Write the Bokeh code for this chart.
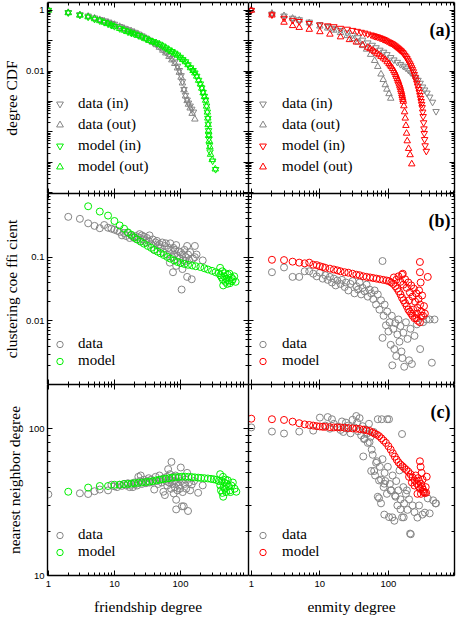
from bokeh.plotting import figure
from bokeh.layouts import gridplot
from bokeh.models import (LogAxis, FixedTicker, CustomJSTickFormatter, Range1d,
                          Legend, LegendItem, Label)
from bokeh.embed import file_html
from bokeh.resources import INLINE

# ---------------- data: panel (a) degree CDF ----------------
fr_model_in_deg = [1, 2, 3, 4, 5, 6, 7, 8, 9, 10, 12, 14, 16, 18, 20, 23, 26, 30, 34, 38, 43, 48, 54, 60, 67,
                   74, 82, 90, 99, 108, 119, 130, 142, 155, 165, 176, 188, 200, 210, 220, 230, 240, 248, 255,
                   260, 263, 266, 268, 270, 275, 280, 307, 340]
fr_model_in_cdf = [1.0, 0.83, 0.69, 0.60, 0.51, 0.45, 0.40, 0.355, 0.32, 0.295, 0.25, 0.22, 0.195, 0.178, 0.166,
                   0.148, 0.132, 0.115, 0.102, 0.093, 0.085, 0.077, 0.067, 0.058, 0.050, 0.044, 0.039, 0.034,
                   0.0285, 0.0240, 0.0204, 0.0162, 0.0129, 0.0105, 0.0087, 0.0068, 0.0050, 0.0038, 0.0028,
                   0.0020, 0.00148, 0.00112, 7.1e-4, 4.5e-4, 2.8e-4, 1.8e-4, 1.1e-4, 7.9e-5, 5.9e-5, 3.6e-5,
                   2.2e-5, 1.1e-5, 5.8e-6]
fr_model_out_deg = [1, 2, 3, 4, 5, 6, 7, 8, 9, 10, 12, 14, 16, 18, 20, 23, 26, 30, 34, 38, 43, 48, 54, 60, 67,
                    74, 82, 90, 99, 108, 119, 130, 142, 155, 165, 176, 188, 200, 210, 220, 230, 240, 248, 255,
                    259, 262, 265, 267, 272, 278, 285, 302, 336]
fr_model_out_cdf = [1.0, 0.82, 0.68, 0.60, 0.52, 0.45, 0.40, 0.36, 0.325, 0.295, 0.25, 0.22, 0.196, 0.178, 0.165,
                    0.147, 0.131, 0.114, 0.101, 0.092, 0.084, 0.076, 0.066, 0.057, 0.049, 0.043, 0.038, 0.033,
                    0.0280, 0.0236, 0.0200, 0.0160, 0.0127, 0.0103, 0.0086, 0.0067, 0.0049, 0.0037, 0.0027,
                    0.0019, 0.00142, 0.00108, 6.9e-4, 4.4e-4, 2.8e-4, 1.7e-4, 1.05e-4, 7.5e-5, 5.0e-5, 3.2e-5,
                    1.8e-5, 1.2e-5, 5.9e-6]
fr_data_in_deg = [1, 2, 3, 4, 5, 6, 7, 8, 9, 10, 12, 14, 16, 18, 20, 23, 26, 30, 34, 38, 43, 48, 54, 60, 67,
                  74, 82, 90, 96, 102, 107, 113, 119, 126, 132, 140, 148, 157]
fr_data_in_cdf = [1.0, 0.85, 0.72, 0.65, 0.56, 0.50, 0.45, 0.41, 0.37, 0.35, 0.295, 0.257, 0.229, 0.209, 0.19,
                  0.166, 0.145, 0.123, 0.105, 0.091, 0.076, 0.063, 0.051, 0.042, 0.033, 0.026, 0.020, 0.0145,
                  0.0105, 0.0071, 0.0045, 0.0025, 0.0016, 0.00112, 8.9e-4, 7.1e-4, 5.6e-4, 4.5e-4]
fr_data_out_deg = [1, 2, 3, 4, 5, 6, 7, 8, 9, 10, 12, 14, 16, 18, 20, 23, 26, 30, 34, 38, 43, 48, 54, 60, 67,
                   74, 82, 90, 96, 102, 107, 113, 119, 126, 132, 140, 150, 165]
fr_data_out_cdf = [1.0, 0.84, 0.71, 0.63, 0.55, 0.49, 0.44, 0.40, 0.365, 0.34, 0.29, 0.252, 0.225, 0.205, 0.186,
                   0.162, 0.141, 0.12, 0.102, 0.088, 0.073, 0.060, 0.048, 0.039, 0.030, 0.023, 0.0175, 0.0125,
                   0.009, 0.0062, 0.0040, 0.0024, 0.0015, 0.00105, 8.0e-4, 6.0e-4, 4.0e-4, 2.6e-4]

en_model_in_deg = [1, 2, 3, 4, 5, 7, 10, 13, 16, 20, 25, 30, 35, 40, 45, 50, 56, 60, 63, 66, 70, 74, 78, 82, 86,
                   90, 95, 100, 105, 110, 115, 120, 125, 130, 135, 140, 145, 150, 155, 161, 167, 173, 180, 186,
                   192, 198, 205, 211, 218, 224, 231, 238, 245, 252, 260, 267, 275, 282, 288, 294, 300, 305,
                   310, 316, 321, 326, 330, 333, 337, 343, 357]
en_model_in_cdf = [1.0, 0.71, 0.55, 0.47, 0.43, 0.37, 0.33, 0.31, 0.29, 0.257, 0.24, 0.219, 0.204, 0.19, 0.178,
                   0.166, 0.155, 0.147, 0.141, 0.137, 0.132, 0.126, 0.12, 0.115, 0.11, 0.104, 0.098, 0.092,
                   0.087, 0.082, 0.078, 0.073, 0.068, 0.063, 0.059, 0.055, 0.051, 0.048, 0.045, 0.041, 0.037,
                   0.033, 0.0295, 0.026, 0.0229, 0.020, 0.0174, 0.0151, 0.0129, 0.0112, 0.0095, 0.0078, 0.0063,
                   0.0051, 0.0040, 0.0032, 0.0025, 0.0020, 0.00158, 0.00126, 0.0010, 8.0e-4, 6.3e-4, 4.5e-4,
                   3.2e-4, 2.0e-4, 1.26e-4, 8.9e-5, 5.6e-5, 3.5e-5, 2.3e-5]
en_model_out_deg = [1, 2, 3, 4, 5, 7, 10, 14, 20, 27, 34, 42, 50, 54, 59, 63, 68, 73, 78, 84, 90, 96, 102, 106,
                    110, 115, 120, 124, 128, 131, 135, 138, 141, 144, 147, 150, 152, 155, 157, 159, 161, 163,
                    165, 168, 172, 176, 180, 184, 188, 197, 207, 219]
en_model_out_cdf = [1.0, 0.69, 0.40, 0.31, 0.27, 0.234, 0.195, 0.162, 0.132, 0.107, 0.089, 0.072, 0.060, 0.054,
                    0.048, 0.043, 0.038, 0.034, 0.030, 0.0265, 0.0234, 0.020, 0.0174, 0.0155, 0.0138, 0.012,
                    0.0102, 0.0089, 0.0076, 0.0066, 0.0056, 0.0049, 0.0043, 0.0037, 0.0032, 0.0028, 0.0024,
                    0.0021, 0.00178, 0.00155, 0.00132, 0.00115, 0.0010, 7.1e-4, 4.5e-4, 2.8e-4, 1.6e-4,
                    8.9e-5, 5.0e-5, 2.8e-5, 1.74e-5, 8.7e-6]
en_data_in_deg = [1, 2, 3, 4, 5, 7, 10, 13, 16, 20, 25, 30, 36, 42, 50, 58, 66, 75, 85, 95, 108, 120, 135, 150,
                  165, 180, 196, 212, 230, 250, 270, 290, 315, 337, 365, 400, 440, 495]
en_data_in_cdf = [1.0, 0.76, 0.65, 0.55, 0.49, 0.41, 0.34, 0.295, 0.257, 0.219, 0.182, 0.151, 0.126, 0.105,
                  0.085, 0.071, 0.059, 0.049, 0.042, 0.035, 0.028, 0.0234, 0.0195, 0.0166, 0.0145, 0.0126,
                  0.0107, 0.0089, 0.0074, 0.0060, 0.0050, 0.0040, 0.0030, 0.0024, 0.0019, 0.0014, 9.5e-4, 4.7e-4]
en_data_out_deg = [1, 2, 3, 4, 5, 7, 10, 13, 16, 20, 25, 30, 36, 42, 48, 55, 63, 70, 78, 84, 90, 95, 102, 108]
en_data_out_cdf = [1.0, 0.79, 0.66, 0.54, 0.47, 0.38, 0.30, 0.257, 0.219, 0.182, 0.145, 0.115, 0.089, 0.068,
                   0.052, 0.035, 0.022, 0.014, 0.0079, 0.0052, 0.0035, 0.0025, 0.00178, 0.00126]

# ---------------- data: panel (b) clustering coefficient ----------------
fr_cc_model_deg = [4, 6, 8, 10, 12, 14, 16, 18, 20, 22, 25, 28, 32, 36, 40, 45, 50, 56, 63, 70, 80, 90, 100, 115,
                   130, 150, 170, 200, 230, 260, 300, 340, 380, 400, 420, 440, 460, 480, 500, 520, 540, 560,
                   590, 620, 650, 684, 443, 398, 430, 470, 510, 550, 600]
fr_cc_model_val = [0.63, 0.52, 0.45, 0.37, 0.315, 0.28, 0.245, 0.225, 0.205, 0.19, 0.175, 0.163, 0.150, 0.140,
                   0.130, 0.122, 0.115, 0.108, 0.101, 0.095, 0.089, 0.084, 0.081, 0.078, 0.076, 0.074, 0.072,
                   0.070, 0.067, 0.064, 0.061, 0.058, 0.056, 0.052, 0.048, 0.044, 0.050, 0.041, 0.046, 0.053,
                   0.043, 0.039, 0.048, 0.045, 0.050, 0.041, 0.036, 0.068, 0.060, 0.056, 0.038, 0.055, 0.042]
fr_cc_data_deg = [2, 3, 4, 5, 6, 7, 8, 9, 10, 11, 12, 13, 14, 15, 16, 17, 18, 19, 20, 21, 22, 23, 24, 25, 26, 27,
                  28, 30, 31, 33, 34, 36, 38, 40, 42, 44, 46, 48, 50, 53, 55, 58, 60, 63, 66, 69, 70, 72, 75,
                  77, 78, 80, 83, 86, 86, 90, 95, 98, 101, 104, 107, 107, 110, 115, 118, 120, 126, 126, 130,
                  135, 140, 148, 155, 165, 165, 175, 217]
fr_cc_data_val = [0.43, 0.40, 0.34, 0.31, 0.285, 0.32, 0.29, 0.28, 0.27, 0.26, 0.25, 0.22, 0.24, 0.215, 0.24,
                  0.20, 0.22, 0.21, 0.20, 0.215, 0.19, 0.205, 0.23, 0.18, 0.22, 0.19, 0.21, 0.17, 0.20, 0.18,
                  0.22, 0.16, 0.19, 0.13, 0.17, 0.18, 0.15, 0.16, 0.138, 0.17, 0.12, 0.15, 0.165, 0.11, 0.14,
                  0.082, 0.165, 0.125, 0.10, 0.058, 0.14, 0.11, 0.13, 0.155, 0.073, 0.105, 0.123, 0.095, 0.12,
                  0.031, 0.11, 0.065, 0.09, 0.13, 0.087, 0.10, 0.15, 0.049, 0.11, 0.09, 0.12, 0.045, 0.095,
                  0.10, 0.15, 0.11, 0.089]

en_cc_model_deg = [2, 3, 4, 5, 6, 7, 8, 9, 10, 11, 12, 14, 16, 18, 20, 23, 26, 30, 34, 38, 43, 48, 54, 60, 67,
                   75, 84, 94, 102, 110, 118, 126, 134, 142, 150, 158, 166, 175, 185, 195, 205, 215, 225, 240,
                   255, 270, 288, 300, 120, 130, 140, 150, 158, 165, 175, 185, 195, 205, 215, 225, 235, 245,
                   255, 265, 275, 288, 288, 290, 300, 310, 320, 330, 340, 375, 162, 200, 230, 260, 280, 295]
en_cc_model_val = [0.091, 0.09, 0.085, 0.082, 0.080, 0.082, 0.076, 0.075, 0.072, 0.070, 0.068, 0.066, 0.064,
                   0.062, 0.060, 0.058, 0.057, 0.055, 0.053, 0.052, 0.050, 0.049, 0.048, 0.047, 0.046, 0.045,
                   0.044, 0.043, 0.042, 0.040, 0.038, 0.035, 0.032, 0.029, 0.026, 0.023, 0.021, 0.019, 0.017,
                   0.015, 0.014, 0.013, 0.012, 0.011, 0.011, 0.010, 0.0095, 0.012, 0.048, 0.044, 0.050, 0.041,
                   0.053, 0.037, 0.045, 0.033, 0.040, 0.028, 0.036, 0.024, 0.032, 0.020, 0.027, 0.016, 0.022,
                   0.084, 0.058, 0.018, 0.014, 0.025, 0.012, 0.017, 0.013, 0.049, 0.055, 0.021, 0.015, 0.013,
                   0.030, 0.040]
en_cc_data_deg = [2, 3, 4, 5, 6, 7, 8, 9, 10, 11, 12, 13, 14, 15, 16, 17, 18, 20, 21, 23, 24, 26, 28, 30, 32, 34,
                  36, 38, 40, 42, 45, 48, 50, 53, 56, 60, 63, 66, 70, 74, 78, 82, 82, 85, 88, 92, 96, 100, 104,
                  108, 112, 114, 118, 122, 126, 130, 135, 140, 145, 150, 155, 160, 165, 170, 180, 190, 200, 210,
                  220, 240, 260, 290, 320, 360, 400, 430, 470]
en_cc_data_val = [0.058, 0.069, 0.049, 0.049, 0.060, 0.060, 0.055, 0.050, 0.057, 0.046, 0.052, 0.044, 0.049,
                  0.040, 0.046, 0.036, 0.043, 0.038, 0.044, 0.034, 0.040, 0.030, 0.038, 0.042, 0.027, 0.035,
                  0.031, 0.040, 0.026, 0.033, 0.029, 0.037, 0.024, 0.031, 0.027, 0.022, 0.030, 0.018, 0.026,
                  0.015, 0.021, 0.0054, 0.087, 0.012, 0.018, 0.0085, 0.014, 0.0068, 0.0095, 0.0042, 0.012,
                  0.002, 0.0075, 0.0036, 0.0092, 0.0028, 0.0061, 0.0105, 0.0047, 0.0083, 0.0033, 0.0026,
                  0.0065, 0.0019, 0.0095, 0.0052, 0.0024, 0.0075, 0.0021, 0.0058, 0.0088, 0.0036, 0.0095,
                  0.0105, 0.0105, 0.0022, 0.0105]

# ---------------- data: panel (c) nearest neighbor degree ----------------
fr_knn_model_deg = [2, 4, 6, 8, 10, 12, 14, 16, 18, 20, 23, 26, 30, 34, 38, 43, 48, 54, 60, 67, 75, 84, 94, 105,
                    118, 132, 148, 165, 185, 205, 230, 260, 290, 320, 350, 380, 400, 410, 420, 430, 440, 450,
                    460, 470, 480, 490, 500, 520, 540, 560, 590, 620, 660, 700, 398, 443, 570]
fr_knn_model_val = [37.2, 39.7, 40.7, 40.7, 41.5, 41.5, 42.0, 42.0, 42.3, 42.5, 42.8, 43.0, 43.3, 43.6, 44.0,
                    44.5, 44.9, 45.3, 45.7, 46.0, 46.4, 46.7, 46.9, 47.1, 47.1, 47.0, 46.8, 46.6, 46.4, 46.2,
                    46.0, 45.8, 45.5, 45.2, 44.8, 44.0, 41.0, 38.0, 44.0, 36.5, 47.0, 40.0, 43.0, 39.0, 45.0,
                    37.0, 42.0, 44.5, 40.5, 38.0, 41.0, 43.0, 39.0, 37.2, 49.0, 34.4, 37.0]
fr_knn_data_deg = [1, 3, 4, 5, 6, 8, 9, 10, 11, 12, 13, 14, 15, 16, 17, 18, 19, 20, 21, 22, 23, 24, 25, 26, 27,
                   28, 30, 32, 33, 34, 36, 38, 40, 42, 44, 46, 48, 50, 52, 55, 56, 58, 60, 62, 63, 65, 67, 69,
                   70, 72, 73, 75, 77, 79, 80, 82, 84, 86, 86, 88, 90, 92, 95, 98, 101, 104, 105, 108, 112, 115,
                   118, 122, 126, 130, 135, 140, 148, 160, 185, 217]
fr_knn_data_val = [35.7, 36.3, 35.9, 37.5, 38.5, 38.0, 41.5, 40.5, 40.0, 41.5, 40.8, 42.0, 41.0, 42.5, 40.0,
                   41.5, 40.0, 43.0, 42.0, 41.0, 47.0, 44.0, 48.0, 42.0, 43.5, 45.0, 42.5, 44.0, 46.0, 43.0,
                   45.0, 43.5, 38.5, 47.0, 44.0, 42.0, 48.0, 45.0, 43.0, 37.2, 46.0, 35.3, 44.0, 47.0, 41.0,
                   53.0, 43.0, 49.0, 45.0, 39.0, 59.4, 42.0, 47.0, 36.2, 44.0, 40.0, 48.0, 32.8, 28.2, 43.0,
                   38.0, 46.0, 41.0, 39.0, 54.4, 44.0, 29.6, 37.0, 29.6, 42.0, 45.0, 39.0, 50.0, 27.5, 43.0,
                   38.0, 41.7, 44.0, 36.6, 41.1]

en_knn_model_deg = [1, 2, 3, 4, 5, 6, 7, 8, 9, 10, 11, 12, 14, 16, 18, 20, 23, 26, 30, 34, 38, 43, 48, 53, 58,
                    63, 68, 73, 79, 85, 92, 100, 108, 116, 124, 132, 140, 150, 160, 170, 182, 195, 210, 225,
                    242, 260, 275, 290, 298, 321, 288, 295, 362, 355, 250, 270, 280, 300, 310, 320, 330, 340,
                    265, 240, 220, 200, 305, 315, 350]
en_knn_model_val = [117, 116, 114.7, 111.7, 109, 107, 106, 105, 104, 103.5, 103, 103, 102.5, 102, 102, 102,
                    101.5, 101, 100.5, 100, 99.5, 98.5, 97.5, 96.5, 94.5, 92.5, 91, 89, 86, 83, 80, 76, 72,
                    68, 64.5, 61.5, 59, 57, 55.5, 54, 52.5, 51, 49, 46.5, 44.4, 42.2, 40.5, 39, 36, 37.2, 60,
                    55, 47.1, 36.6, 48, 46, 44, 42, 40, 38.5, 37, 36.5, 36, 41, 43, 47, 50, 45, 40]
en_knn_data_deg = [1, 2, 3, 5, 8, 10, 12, 13, 14, 15, 16, 18, 20, 21, 22, 24, 25, 26, 28, 30, 32, 34, 35, 36, 38,
                   40, 42, 43, 44, 45, 46, 48, 50, 52, 53, 55, 56, 57, 59, 61, 62, 64, 66, 68, 70, 70, 73, 73,
                   75, 78, 78, 80, 82, 85, 87, 87, 88, 90, 95, 96, 98, 102, 102, 105, 108, 110, 114, 115, 122,
                   125, 127, 130, 135, 140, 145, 150, 150, 158, 158, 165, 167, 170, 180, 186, 190, 200, 207,
                   212, 225, 240, 265, 280, 313, 340, 375, 400, 449, 486, 495]
en_knn_data_val = [102, 95.6, 92.7, 95.6, 97, 119, 105, 120, 100, 116, 108, 103, 98, 112, 95, 110, 100, 105, 93,
                   115, 102, 122, 110, 96, 118, 90, 104, 64.7, 85, 85.5, 99, 92, 80, 108, 81, 88, 51.5, 72,
                   66.4, 95, 51.5, 48, 58.6, 60, 116, 34.4, 33.6, 44.4, 55, 45, 31, 116, 62, 40, 26, 42.2, 50,
                   44, 36, 116, 55, 25, 116, 42, 38, 38, 24.9, 48, 23.6, 35, 34.4, 44, 30, 38, 52, 33, 28.2,
                   24.9, 92, 40, 24.9, 31, 36, 38, 28, 33, 19.3, 19.1, 30, 27, 24.8, 30, 26, 26.8, 33.5, 26.5,
                   32.5, 31, 31]

# ---------------- styling ----------------
GRAY = "#858585"
GREEN = "#00f000"
RED = "#ff0000"
SERIF = "Liberation Serif"
SANS = "Liberation Sans"

FW = 206          # frame width
FH = 191          # frame height
LB = 42           # left border
RB = 3            # right border
TB = 2            # top border
BB = 47           # bottom border

X_L = (0.97, 1070)
X_R = (0.91, 920)
Y_A = (9.3e-7, 1.8)
Y_B = (1.0e-3, 1.0)
Y_C = (10, 200)


def decade_minors(lo_exp, hi_exp):
    out = []
    for e in range(lo_exp, hi_exp + 1):
        for m in range(2, 10):
            out.append(m * 10.0 ** e)
    return out


X_MAJOR = [1, 10, 100]
X_MINOR = decade_minors(0, 2)


def label_formatter(keep):
    code = "const keep = %s;\n" % repr(keep)
    code += ("for (const k of keep) { if (Math.abs(tick / k - 1) < 1e-6) { return String(k); } }\n"
             "return '';")
    return CustomJSTickFormatter(code=code)


def style_axis(ax, ticks, minors, keep=None):
    ax.ticker = FixedTicker(ticks=ticks, minor_ticks=minors)
    ax.axis_line_color = "black"
    ax.axis_line_width = 1.4
    ax.major_tick_line_color = "black"
    ax.minor_tick_line_color = "black"
    ax.major_tick_line_width = 1
    ax.minor_tick_line_width = 1
    ax.major_tick_in = 5
    ax.major_tick_out = 0
    ax.minor_tick_in = 3
    ax.minor_tick_out = 0
    if keep:
        ax.formatter = label_formatter(keep)
        ax.major_label_text_font = SANS
        ax.major_label_text_font_size = "9.5px"
        ax.major_label_text_color = "black"
        ax.major_label_standoff = 3
    else:
        ax.formatter = label_formatter([])
        ax.major_label_text_font_size = "0px"
        ax.major_label_standoff = 0
    ax.axis_label_text_font = SERIF
    ax.axis_label_text_font_size = "15.5px"
    ax.axis_label_text_font_style = "normal"
    ax.axis_label_text_color = "black"


def make_panel(col, row, yr, yticks, yminors, ykeep, ylabel, xlabel):
    left = col == 0
    top = row == 0
    bottom = row == 2
    width = (LB + FW) if left else (FW + RB)
    height = FH + (TB if top else 0) + (BB if bottom else 0)
    p = figure(width=width, height=height, x_axis_type="log", y_axis_type="log",
               x_range=Range1d(*(X_L if left else X_R)), y_range=Range1d(*yr),
               output_backend="svg", toolbar_location=None,
               min_border_left=LB if left else 0, min_border_right=0 if left else RB,
               min_border_top=TB if top else 0, min_border_bottom=BB if bottom else 0,
               background_fill_color="white", border_fill_color="white",
               outline_line_color=None)
    p.xgrid.visible = False
    p.ygrid.visible = False
    style_axis(p.xaxis[0], X_MAJOR, X_MINOR, [1, 10, 100] if bottom else None)
    style_axis(p.yaxis[0], yticks, yminors, ykeep if left else None)
    if bottom:
        p.xaxis[0].axis_label = xlabel
        p.xaxis[0].major_label_standoff = 5
        p.xaxis[0].axis_label_standoff = 8
    if left:
        p.yaxis[0].axis_label = ylabel
        p.yaxis[0].axis_label_standoff = 3
    ax_top = LogAxis()
    style_axis(ax_top, X_MAJOR, X_MINOR, None)
    p.add_layout(ax_top, "above")
    ax_right = LogAxis()
    style_axis(ax_right, yticks, yminors, None)
    p.add_layout(ax_right, "right")
    return p


def add_legend(p, items, x, y, row_h, spacing, standoff):
    leg = Legend(items=[LegendItem(label=t, renderers=[r]) for t, r in items],
                 location=(x, y), orientation="vertical",
                 background_fill_alpha=0, border_line_alpha=0, padding=0, margin=0,
                 spacing=spacing, glyph_width=17, glyph_height=row_h, label_height=row_h,
                 label_standoff=standoff, label_text_font=SERIF, label_text_font_size="15px",
                 label_text_color="black")
    p.add_layout(leg)


def add_tag(p, text):
    p.add_layout(Label(x=FW - 4, y=FH - 27, x_units="screen", y_units="screen", text=text,
                       text_align="right", text_baseline="middle", text_font=SERIF,
                       text_font_style="bold", text_font_size="18px", text_color="black"))


def mk(p, x, y, marker, color, size):
    return p.scatter(x, y, marker=marker, size=size, line_color=color, fill_color=None, line_width=1)


A_TICKS = [1e-6, 1e-5, 1e-4, 1e-3, 1e-2, 1e-1, 1]
A_MINOR = decade_minors(-7, 0)
B_TICKS = [1e-3, 1e-2, 1e-1, 1]
B_MINOR = decade_minors(-3, -1)
C_TICKS = [10, 100]
C_MINOR = decade_minors(1, 2)

TRI = 6.5
CIR = 7

# ---------------- row (a) ----------------
a_l = make_panel(0, 0, Y_A, A_TICKS, A_MINOR, [1, 0.01], "degree CDF", "")
r1 = mk(a_l, fr_data_in_deg, fr_data_in_cdf, "inverted_triangle", GRAY, TRI)
r2 = mk(a_l, fr_data_out_deg, fr_data_out_cdf, "triangle", GRAY, TRI)
r3 = mk(a_l, fr_model_in_deg, fr_model_in_cdf, "inverted_triangle", GREEN, TRI)
r4 = mk(a_l, fr_model_out_deg, fr_model_out_cdf, "triangle", GREEN, TRI)
add_legend(a_l, [("data (in)", r1), ("data (out)", r2), ("model (in)", r3), ("model (out)", r4)],
           4, 18, 17, 4, 10)

a_r = make_panel(1, 0, Y_A, A_TICKS, A_MINOR, None, "", "")
s1 = mk(a_r, en_data_in_deg, en_data_in_cdf, "inverted_triangle", GRAY, TRI)
s2 = mk(a_r, en_data_out_deg, en_data_out_cdf, "triangle", GRAY, TRI)
s3 = mk(a_r, en_model_in_deg, en_model_in_cdf, "inverted_triangle", RED, TRI)
s4 = mk(a_r, en_model_out_deg, en_model_out_cdf, "triangle", RED, TRI)
add_legend(a_r, [("data (in)", s1), ("data (out)", s2), ("model (in)", s3), ("model (out)", s4)],
           6, 18, 17, 4, 11)
add_tag(a_r, "(a)")

# ---------------- row (b) ----------------
b_l = make_panel(0, 1, Y_B, B_TICKS, B_MINOR, [0.1, 0.01], "clustering coe ffi cient", "")
t1 = mk(b_l, fr_cc_data_deg, fr_cc_data_val, "circle", GRAY, CIR)
t2 = mk(b_l, fr_cc_model_deg, fr_cc_model_val, "circle", GREEN, CIR)
add_legend(b_l, [("data", t1), ("model", t2)], 4, 15, 16, 0, 10)

b_r = make_panel(1, 1, Y_B, B_TICKS, B_MINOR, None, "", "")
u1 = mk(b_r, en_cc_data_deg, en_cc_data_val, "circle", GRAY, CIR)
u2 = mk(b_r, en_cc_model_deg, en_cc_model_val, "circle", RED, CIR)
add_legend(b_r, [("data", u1), ("model", u2)], 6, 15, 16, 0, 11)
add_tag(b_r, "(b)")

# ---------------- row (c) ----------------
c_l = make_panel(0, 2, Y_C, C_TICKS, C_MINOR, [100, 10], "nearest neighbor degree", "friendship degree")
v1 = mk(c_l, fr_knn_data_deg, fr_knn_data_val, "circle", GRAY, CIR)
v2 = mk(c_l, fr_knn_model_deg, fr_knn_model_val, "circle", GREEN, CIR)
add_legend(c_l, [("data", v1), ("model", v2)], 4, 15, 16, 0, 10)

c_r = make_panel(1, 2, Y_C, C_TICKS, C_MINOR, None, "", "enmity degree")
w1 = mk(c_r, en_knn_data_deg, en_knn_data_val, "circle", GRAY, CIR)
w2 = mk(c_r, en_knn_model_deg, en_knn_model_val, "circle", RED, CIR)
add_legend(c_r, [("data", w1), ("model", w2)], 6, 15, 16, 0, 11)
add_tag(c_r, "(c)")

grid = gridplot([[a_l, a_r], [b_l, b_r], [c_l, c_r]], toolbar_location=None)

with open("out.html", "w") as f:
    f.write(file_html(grid, INLINE))
